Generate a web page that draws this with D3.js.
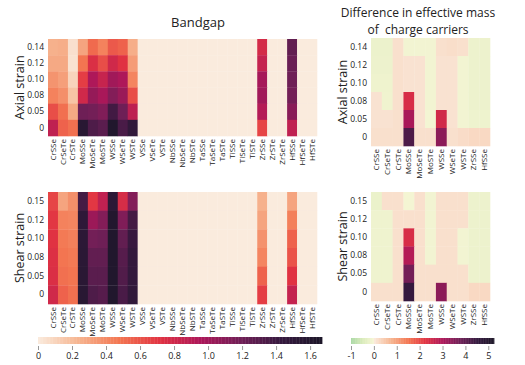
<!DOCTYPE html>
<html><head><meta charset="utf-8">
<script src="https://cdn.jsdelivr.net/npm/d3@7"></script>
<style>
body{margin:0;background:#fff;}
text{font-family:"Open Sans",sans-serif;fill:#222;}
</style></head>
<body><svg id="c" width="525" height="365"></svg>
<script>
// ---------- DATA ----------
const materialsL = ["CrSSe","CrSeTe","CrSTe","MoSSe","MoSeTe","MoSTe","WSSe","WSeTe","WSTe","VSSe","VSeTe","VSTe","NbSSe","NbSeTe","NbSTe","TaSSe","TaSeTe","TaSTe","TiSSe","TiSeTe","TiSTe","ZrSSe","ZrSTe","ZrSeTe","HfSSe","HfSeTe","HfSTe"];
const materialsR = ["CrSSe","CrSeTe","CrSTe","MoSSe","MoSeTe","MoSTe","WSSe","WSeTe","WSTe","ZrSSe","HfSSe"];
const axialStrain = ["0.14","0.12","0.10","0.08","0.05","0"];
const shearStrain = ["0.15","0.12","0.10","0.08","0.05","0"];

// Bandgap, axial strain (rows top->bottom)
const gapAxial014 = [0.25,0.26,0.05,0.30,0.52,0.43,0.58,0.55,0.26, 0,0,0,0,0,0,0,0,0,0,0,0, 0.78,0,0,1.25,0,0];
const gapAxial012 = [0.28,0.28,0.04,0.48,0.75,0.62,0.80,0.72,0.33, 0,0,0,0,0,0,0,0,0,0,0,0, 0.85,0,0,1.22,0,0];
const gapAxial010 = [0.36,0.32,0.10,0.68,0.95,0.84,1.00,0.95,0.42, 0,0,0,0,0,0,0,0,0,0,0,0, 0.98,0,0,1.20,0,0];
const gapAxial008 = [0.43,0.38,0.17,0.80,1.05,0.97,1.12,1.03,0.62, 0,0,0,0,0,0,0,0,0,0,0,0, 1.00,0,0,1.18,0,0];
const gapAxial005 = [0.62,0.50,0.28,1.20,1.18,1.13,1.38,1.20,0.88, 0,0,0,0,0,0,0,0,0,0,0,0, 0.92,0,0,1.10,0,0];
const gapAxial000 = [0.87,0.55,0.50,1.55,1.33,1.28,1.62,1.35,1.47, 0,0,0,0,0,0,0,0,0,0,0,0, 0.65,0,0,0.87,0,0];
// Bandgap, shear strain
const gapShear015 = [0.65,0.30,0.38,1.37,0.70,0.87,1.52,0.77,1.12, 0,0,0,0,0,0,0,0,0,0,0,0, 0.25,0,0,0.30,0,0];
const gapShear012 = [0.70,0.43,0.42,1.50,1.02,1.12,1.60,1.13,1.37, 0,0,0,0,0,0,0,0,0,0,0,0, 0.30,0,0,0.44,0,0];
const gapShear010 = [0.72,0.46,0.44,1.52,1.18,1.20,1.62,1.25,1.42, 0,0,0,0,0,0,0,0,0,0,0,0, 0.37,0,0,0.55,0,0];
const gapShear008 = [0.74,0.48,0.46,1.53,1.25,1.25,1.62,1.30,1.45, 0,0,0,0,0,0,0,0,0,0,0,0, 0.42,0,0,0.60,0,0];
const gapShear005 = [0.75,0.50,0.48,1.54,1.28,1.28,1.62,1.32,1.45, 0,0,0,0,0,0,0,0,0,0,0,0, 0.55,0,0,0.72,0,0];
const gapShear000 = [0.80,0.55,0.50,1.55,1.33,1.30,1.62,1.35,1.47, 0,0,0,0,0,0,0,0,0,0,0,0, 0.68,0,0,0.85,0,0];

// Difference in effective mass, axial strain
const massAxial014 = [-0.18,-0.18,0.15,-0.08,-0.08,-0.08,0.15,0.18,0.15,-0.16,-0.16];
const massAxial012 = [-0.16,-0.16,0.15,0.12,0.12,-0.08,0.12,0.12,-0.08,-0.16,-0.16];
const massAxial010 = [-0.14,-0.14,0.15,0.12,0.12,-0.08,0.12,0.12,-0.08,-0.16,-0.16];
const massAxial008 = [0.12,-0.12,0.15,2.40,0.12,-0.08,0.12,0.12,-0.08,-0.16,-0.16];
const massAxial005 = [0.12,0.12,0.15,3.05,0.12,-0.06,2.50,0.12,-0.08,-0.15,-0.15];
const massAxial000 = [0.15,0.15,0.15,4.20,0.15,0.15,3.40,0.15,0.20,0.25,0.25];
// Difference in effective mass, shear strain
const massShear015 = [-0.20,0.15,0.15,-0.05,0.15,-0.08,0.15,0.15,0.15,-0.16,-0.16];
const massShear012 = [-0.13,-0.13,0.15,0.15,0.15,-0.08,0.15,0.15,0.15,-0.16,-0.16];
const massShear010 = [-0.13,-0.13,0.15,2.40,0.15,-0.08,0.15,0.15,-0.08,-0.16,-0.16];
const massShear008 = [-0.13,-0.13,0.15,2.90,0.15,-0.08,0.15,0.15,-0.08,-0.16,-0.16];
const massShear005 = [-0.13,-0.13,0.15,3.70,0.15,0.15,0.15,0.15,0.15,-0.16,-0.16];
const massShear000 = [0.15,0.15,0.15,4.50,0.15,0.15,3.40,0.15,0.15,0.25,0.25];

const gapTicks = [0,0.2,0.4,0.6,0.8,1.0,1.2,1.4,1.6];
const gapTickLabels = ["0","0.2","0.4","0.6","0.8","1.0","1.2","1.4","1.6"];
const massTicks = [-1,0,1,2,3,4,5];
const massTickLabels = ["-1","0","1","2","3","4","5"];

// ---------- COLOURS ----------
const rocket = d3.piecewise(d3.interpolateRgb, ["#1c1628","#35193e","#701f57","#ad1759","#e13342","#f37651","#f6b48f","#faebdd"]);
const rocketR = t => rocket(1 - Math.max(0, Math.min(1, t)));
const gapMax = 1.67;
const gapColor = v => rocketR(v / gapMax);
const massMin = -1, massMax = 5.25;
const negInterp = d3.piecewise(d3.interpolateRgb, ["#a9d8a5","#d9ebba","#f7f6d6"]);
const massColor = v => v < 0 ? negInterp(1 + Math.max(-1, v)) : rocketR(v / massMax);

const svg = d3.select("#c");

function heatmap(cols, rowsLabels, rows, colorFn, x0, x1, y0, y1, ylabel) {
  const g = svg.append("g");
  const x = d3.scaleBand().domain(cols).range([x0, x1]);
  const y = d3.scaleBand().domain(rowsLabels).range([y0, y1]);
  const cells = [];
  rows.forEach((r, i) => r.forEach((v, j) => cells.push({r: rowsLabels[i], c: cols[j], v})));
  g.selectAll("rect").data(cells).join("rect")
    .attr("x", d => x(d.c)).attr("y", d => y(d.r))
    .attr("width", x.bandwidth() + 0.3).attr("height", y.bandwidth() + 0.3)
    .attr("fill", d => colorFn(d.v));
  const ya = g.append("g").attr("transform", `translate(${x0},0)`)
    .call(d3.axisLeft(y).tickSize(0).tickPadding(4));
  ya.select(".domain").remove();
  ya.selectAll("text").style("font-size", "8.5px").style("font-family", "Open Sans").attr("fill", "#222");
  const xa = g.append("g").attr("transform", `translate(0,${y1})`)
    .call(d3.axisBottom(x).tickSize(0).tickPadding(3));
  xa.select(".domain").remove();
  xa.selectAll("text").style("font-size", "8px").style("font-family", "Open Sans").attr("fill", "#222")
    .attr("transform", "rotate(-90)").attr("text-anchor", "end")
    .attr("x", -3).attr("y", 0).attr("dy", "0.32em");
  g.append("text").attr("transform", `translate(${ylabel.x},${(y0 + y1) / 2}) rotate(-90)`)
    .attr("text-anchor", "middle").style("font-size", "12.5px").text(ylabel.text);
}

heatmap(materialsL, axialStrain, [gapAxial014,gapAxial012,gapAxial010,gapAxial008,gapAxial005,gapAxial000], gapColor, 48, 317, 39, 136, {x: 24, text: "Axial strain"});
heatmap(materialsL, shearStrain, [gapShear015,gapShear012,gapShear010,gapShear008,gapShear005,gapShear000], gapColor, 48, 317, 192, 304, {x: 24, text: "Shear strain"});
heatmap(materialsR, axialStrain, [massAxial014,massAxial012,massAxial010,massAxial008,massAxial005,massAxial000], massColor, 371, 490, 38, 146, {x: 347, text: "Axial strain"});
heatmap(materialsR, shearStrain, [massShear015,massShear012,massShear010,massShear008,massShear005,massShear000], massColor, 371, 490, 192, 301, {x: 347, text: "Shear strain"});

// titles
svg.append("text").attr("x", 198).attr("y", 27).attr("text-anchor", "middle").style("font-size", "13px").text("Bandgap");
svg.append("text").attr("x", 418).attr("y", 17).attr("text-anchor", "middle").style("font-size", "12px").text("Difference in effective mass");
svg.append("text").attr("x", 418).attr("y", 33.5).attr("text-anchor", "middle").style("font-size", "12px").attr("xml:space","preserve").text("of  charge carriers");

// colorbars
function colorbar(dmin, dmax, colorFn, x0, x1, y0, h, ticks, labels) {
  const s = d3.scaleLinear().domain([dmin, dmax]).range([x0, x1]);
  const n = 200;
  const steps = d3.range(n).map(i => dmin + (dmax - dmin) * (i + 0.5) / n);
  const w = (x1 - x0) / n;
  svg.append("g").selectAll("rect").data(steps).join("rect")
    .attr("x", d => s(d) - w / 2).attr("y", y0).attr("width", w + 0.4).attr("height", h)
    .attr("fill", d => colorFn(d));
  const ax = svg.append("g").attr("transform", `translate(0,${y0 + h + 2})`)
    .call(d3.axisBottom(s).tickValues(ticks).tickFormat((d, i) => labels[i]).tickSize(4).tickPadding(3));
  ax.select(".domain").remove();
  ax.selectAll("line").attr("stroke", "#999");
  ax.selectAll("text").style("font-size", "9px").style("font-family", "Open Sans").attr("fill", "#222");
}
colorbar(0, gapMax, gapColor, 38, 322, 337, 7, gapTicks, gapTickLabels);
colorbar(massMin, massMax, massColor, 351, 494, 338, 6, massTicks, massTickLabels);
</script></body></html>
